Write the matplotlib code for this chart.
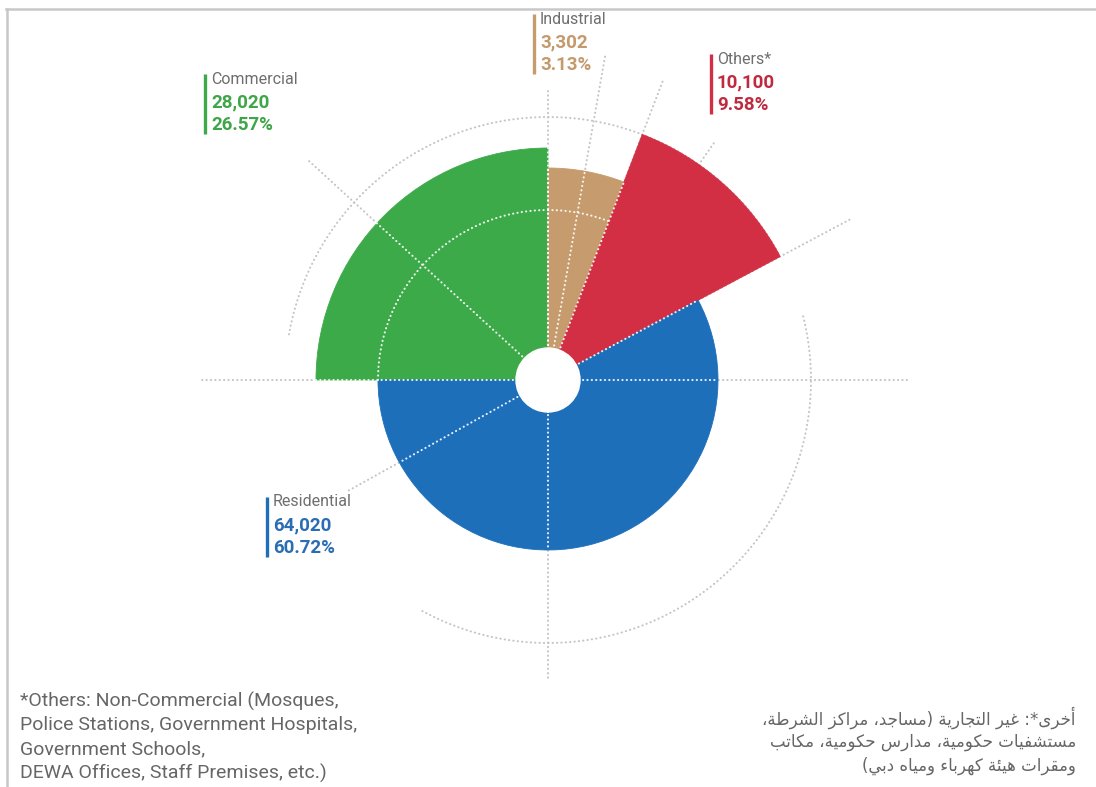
import re
import numpy as np
import matplotlib
matplotlib.use("Agg")
import matplotlib.pyplot as plt
from matplotlib.lines import Line2D

# Customer accounts by category
categories = ["Commercial", "Industrial", "Others*", "Residential"]
accounts = [28020, 3302, 10100, 64020]
shares = [26.57, 3.13, 9.58, 60.72]
# designed sector layout (compass degrees, radius in px)
span_deg = [90, 21, 41, 208]
reach = [232, 212, 263, 170]
start_deg = -90

colors = ["#3DAA4A", "#C69B6D", "#D32F44", "#1E6FBA"]
text_colors = ["#3EA548", "#C49A6C", "#C02A3E", "#2A6DB3"]

note_en = ["*Others: Non-Commercial (Mosques,",
           "Police Stations, Government Hospitals,",
           "Government Schools,",
           "DEWA Offices, Staff Premises, etc.)"]
note_ar = ["أخرى*: غير التجارية (مساجد، مراكز الشرطة،",
           "مستشفيات حكومية، مدارس حكومية، مكاتب",
           "ومقرات هيئة كهرباء ومياه دبي)"]

# --- minimal Arabic shaping: contextual forms from Presentation Forms-B ---
AR_FORMS = {}
_code = 0xFE80
for ch, n in [("ء", 1), ("آ", 2), ("أ", 2), ("ؤ", 2), ("إ", 2), ("ئ", 4), ("ا", 2),
              ("ب", 4), ("ة", 2), ("ت", 4), ("ث", 4), ("ج", 4), ("ح", 4), ("خ", 4),
              ("د", 2), ("ذ", 2), ("ر", 2), ("ز", 2), ("س", 4), ("ش", 4), ("ص", 4),
              ("ض", 4), ("ط", 4), ("ظ", 4), ("ع", 4), ("غ", 4), ("ف", 4), ("ق", 4),
              ("ك", 4), ("ل", 4), ("م", 4), ("ن", 4), ("ه", 4), ("و", 2), ("ى", 2),
              ("ي", 4)]:
    AR_FORMS[ch] = [chr(_code + k) for k in range(n)]
    _code += n


def shape_word(run):
    out = []
    for i, ch in enumerate(run):
        forms = AR_FORMS[ch]
        prev = run[i - 1] if i > 0 else None
        nxt = run[i + 1] if i + 1 < len(run) else None
        join_prev = prev is not None and len(AR_FORMS[prev]) == 4 and len(forms) > 1
        join_next = nxt is not None and len(forms) == 4 and len(AR_FORMS[nxt]) > 1
        if join_prev and join_next:
            out.append(forms[3])
        elif join_prev:
            out.append(forms[1])
        elif join_next:
            out.append(forms[2])
        else:
            out.append(forms[0])
    return "".join(out)


AR_RUN = re.compile("[" + "".join(AR_FORMS) + "]+")
MIRROR = {"(": ")", ")": "("}


def rtl(line):
    shaped = AR_RUN.sub(lambda m: shape_word(m.group()), line)
    return "".join(MIRROR.get(c, c) for c in reversed(shaped))


W, H = 1096, 787
fig = plt.figure(figsize=(W / 100, H / 100), dpi=100)
fig.patch.set_facecolor("white")


def fx(x):
    return x / W


def fy(y):
    return 1 - y / H


# polar axes centred on the rose, 1 data unit = 1 px
cx, cy, R = 548, 380, 380
ax = fig.add_axes([fx(cx - R), fy(cy + R), 2 * R / W, 2 * R / H], projection="polar")
ax.set_theta_zero_location("N")
ax.set_theta_direction(-1)
ax.set_ylim(0, R)
ax.axis("off")

grey = "#C4C4C4"
dot = dict(linestyle=(0, (0.1, 2.0)), linewidth=1.5, dash_capstyle="round")

# sectors
edges = start_deg + np.concatenate([[0], np.cumsum(span_deg)])
centers = np.deg2rad((edges[:-1] + edges[1:]) / 2)
ax.bar(centers, reach, width=np.deg2rad(span_deg), bottom=0,
       color=colors, edgecolor=colors, linewidth=0.6, zorder=2)

# radial guides: (angle, outer radius)
guides = [(0, 292), (180, 300), (90, 362), (270, 346), (-47.5, 325),
          (241, 229), (10, 332), (21, 322), (35, 290), (62, 345)]
for ang, r_out in guides:
    t = np.deg2rad(ang)
    ax.plot([t, t], [0, r_out], color=grey, zorder=1, **dot)

# outer guide arcs
for a0, a1 in [(-80, 62), (76, 209)]:
    t = np.deg2rad(np.linspace(a0, a1, 300))
    ax.plot(t, np.full_like(t, 263), color=grey, zorder=1, **dot)

# white guides over the green, tan and blue sectors
wdot = dict(dot, color="white", alpha=0.9, zorder=3)
for k in (0, 1, 3):
    for ang, r_out in guides:
        a = (ang - start_deg) % 360 + start_deg
        if edges[k] <= a <= edges[k + 1]:
            t = np.deg2rad(a)
            ax.plot([t, t], [0, min(reach[k], r_out)], **wdot)
for k in (0, 1):
    t = np.deg2rad(np.linspace(edges[k], edges[k + 1], 200))
    ax.plot(t, np.full_like(t, 170), **wdot)

# centre hole
ax.bar(0, 32, width=2 * np.pi, bottom=0, color="white", edgecolor="white", zorder=5)

# frame lines
fig.add_artist(Line2D([fx(6), fx(W)], [fy(9), fy(9)], color="#C8C8C8", lw=1.8))
fig.add_artist(Line2D([fx(7), fx(7)], [fy(9), fy(H)], color="#C8C8C8", lw=1.8))

# category labels: (bar x, top y) per block
label_pos = [(205, 74), (534, 14), (711, 54), (267, 497)]
font = ["Roboto", "DejaVu Sans"]
for i, (lx, ly) in enumerate(label_pos):
    fig.add_artist(Line2D([fx(lx), fx(lx)], [fy(ly), fy(ly + 60)],
                          color=colors[i], lw=2.4, solid_capstyle="butt"))
    fig.text(fx(lx + 6), fy(ly + 5), categories[i], color="#6E6E6E",
             fontsize=11.5, family=font, va="center", ha="left")
    fig.text(fx(lx + 6), fy(ly + 28), f"{accounts[i]:,}", color=text_colors[i],
             fontsize=13.5, fontweight="bold", family=font, va="center", ha="left")
    fig.text(fx(lx + 6), fy(ly + 51), f"{shares[i]:.2f}%", color=text_colors[i],
             fontsize=13.5, fontweight="bold", family=font, va="center", ha="left")

# footnotes
for j, line in enumerate(note_en):
    fig.text(fx(20), fy(701 + j * 24), line, color="#666666", fontsize=14,
             family=font, va="center", ha="left")
for j, line in enumerate(note_ar):
    fig.text(fx(1076), fy(718 + j * 24), rtl(line), color="#666666",
             fontsize=12, family=["DejaVu Sans"], va="center", ha="right")

fig.savefig("out.png", dpi=100, facecolor="white")
